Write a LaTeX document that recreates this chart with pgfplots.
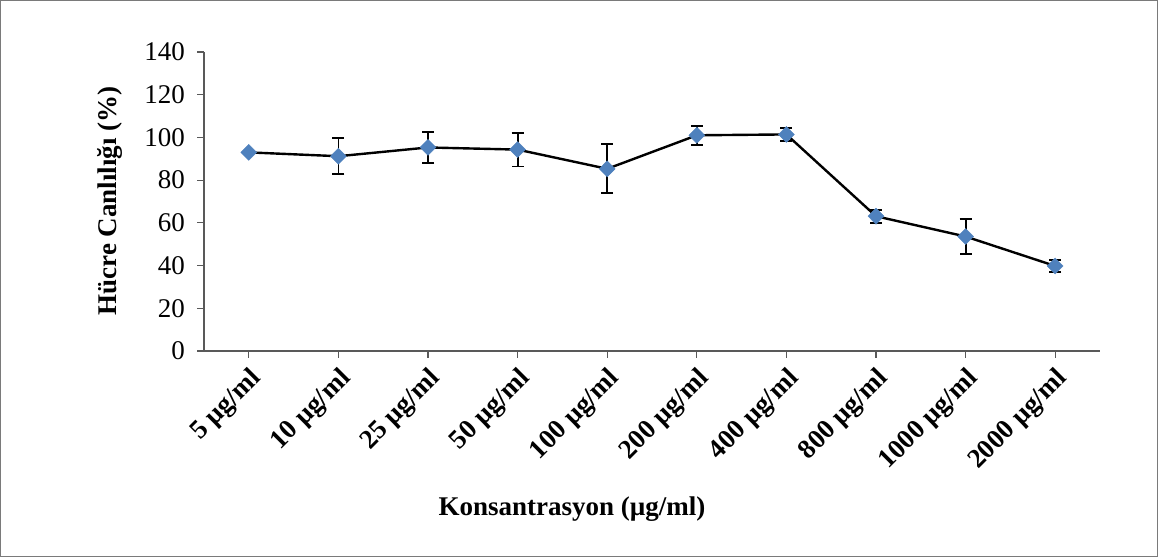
\documentclass[border=0pt]{standalone}
\usepackage{pgfplots}
\pgfplotsset{compat=1.18}
\usepackage{fontspec}
\setmainfont{Liberation Serif}
\definecolor{mblue}{HTML}{4F81BD}
\definecolor{axgray}{HTML}{595959}
\begin{document}
\begin{tikzpicture}[x=1pt,y=1pt]
\draw[axgray!80, line width=0.5pt] (0.25,0.25) rectangle (578.75,278.25);
\begin{axis}[
  at={(102pt,103pt)}, anchor=south west,
  scale only axis, width=448pt, height=149.5pt,
  xmin=-0.5, xmax=9.5, ymin=0, ymax=140,
  axis x line*=bottom, axis y line*=left,
  axis line style={axgray, line width=0.6pt, -},
  tick style={axgray, line width=0.6pt},
  tick align=outside, major tick length=3.5pt,
  xtick={0,...,9},
  xticklabels={5 µg/ml,10 µg/ml,25 µg/ml,50 µg/ml,100 µg/ml,200 µg/ml,400 µg/ml,800 µg/ml,1000 µg/ml,2000 µg/ml},
  xticklabel style={font=\fontsize{13.5}{15}\selectfont\bfseries, rotate=45, anchor=east, xshift=0.5pt, yshift=-9pt},
  ytick={0,20,...,140},
  yticklabel style={font=\fontsize{13.5}{15}\selectfont, xshift=-2.5pt},
  /pgf/number format/assume math mode=true,
  clip=false,
]
\addplot+[black, line width=1.2pt, mark=diamond*, mark size=4pt,
  mark options={fill=mblue, draw=mblue, line width=0.2pt, xscale=1.33},
  error bars/.cd, y dir=both, y explicit,
  error bar style={black, line width=0.9pt},
  error mark options={rotate=90, mark size=3pt, black, line width=0.9pt}]
coordinates {
 (0,93.0) +- (0,0)
 (1,91.2) +- (0,8.4)
 (2,95.3) +- (0,7.1)
 (3,94.3) +- (0,7.9)
 (4,85.3) +- (0,11.5)
 (5,101.0) +- (0,4.4)
 (6,101.4) +- (0,3.0)
 (7,63.1) +- (0,3.0)
 (8,53.6) +- (0,8.2)
 (9,39.8) +- (0,2.8)
};
\end{axis}
\node[rotate=90, font=\fontsize{13.5}{15}\selectfont\bfseries] at (55pt,178pt) {Hücre Canlılığı (\%)};
\node[font=\fontsize{13.5}{15}\selectfont\bfseries] at (286pt,24pt) {Konsantrasyon (µg/ml)};
\end{tikzpicture}
\end{document}
